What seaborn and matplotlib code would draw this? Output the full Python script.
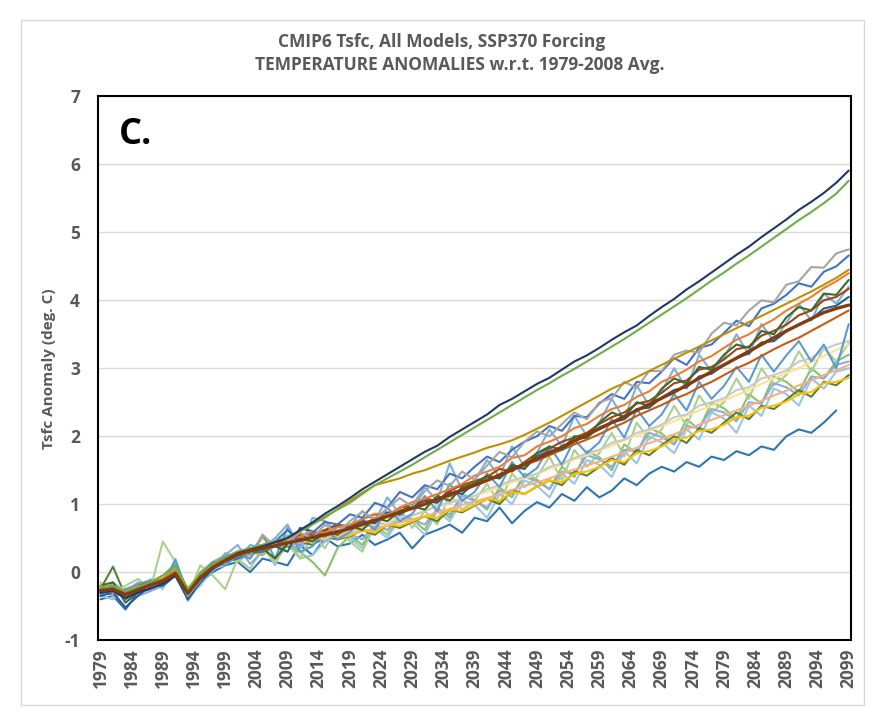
import matplotlib
matplotlib.use("Agg")
import matplotlib.pyplot as plt
from matplotlib.patches import Rectangle
import seaborn as sns
import numpy as np
import pandas as pd

# every 2nd year, 1979 .. 2099
years = list(range(1979, 2100, 2))
tick_years = list(range(1979, 2100, 5))

# temperature anomalies (deg C) w.r.t. 1979-2008
navy = [-0.30, -0.28, -0.38, -0.30, -0.24, -0.17, -0.05, -0.32, -0.10, 0.05, 0.18, 0.28, 0.33, 0.38, 0.44,
        0.50, 0.62, 0.73, 0.86, 0.97, 1.09, 1.22, 1.33, 1.44, 1.55,
        1.66, 1.77, 1.86, 1.99, 2.10, 2.21, 2.32, 2.46, 2.55, 2.66,
        2.77, 2.86, 2.98, 3.10, 3.19, 3.30, 3.42, 3.53, 3.63, 3.77,
        3.90, 4.02, 4.16, 4.28, 4.41, 4.54, 4.67, 4.79, 4.93, 5.06,
        5.19, 5.33, 5.45, 5.58, 5.73, 5.91]
green_hi = [-0.22, -0.20, -0.28, -0.22, -0.15, -0.05, 0.10, -0.25, -0.02, 0.12, 0.22, 0.30, 0.35, 0.40, 0.45,
            0.52, 0.60, 0.70, 0.82, 0.92, 1.02, 1.15, 1.28, 1.38, 1.48,
            1.58, 1.69, 1.80, 1.91, 2.02, 2.13, 2.24, 2.35, 2.46, 2.57,
            2.68, 2.78, 2.89, 2.99, 3.10, 3.21, 3.32, 3.43, 3.55, 3.67,
            3.79, 3.91, 4.03, 4.16, 4.29, 4.41, 4.54, 4.66, 4.79, 4.92,
            5.05, 5.18, 5.30, 5.43, 5.57, 5.76]
gray = [-0.20, -0.30, -0.28, -0.20, -0.25, -0.10, 0.05, -0.35, -0.12, 0.10, 0.15, 0.30, 0.25, 0.55, 0.38,
        0.45, 0.58, 0.50, 0.70, 0.57, 0.75, 0.89, 0.78, 0.94, 1.09,
        0.96, 1.19, 1.35, 1.27, 1.48, 1.36, 1.57, 1.77, 1.69, 1.92,
        2.07, 2.00, 2.18, 2.35, 2.25, 2.50, 2.56, 2.80, 2.71, 2.96,
        2.96, 3.20, 3.26, 3.23, 3.51, 3.67, 3.63, 3.85, 4.00, 3.97,
        4.23, 4.28, 4.49, 4.48, 4.69, 4.75]
blue = [-0.32, -0.20, -0.40, -0.28, -0.15, -0.18, 0.05, -0.35, -0.10, 0.05, 0.22, 0.20, 0.35, 0.30, 0.45,
        0.62, 0.45, 0.58, 0.74, 0.70, 0.85, 0.80, 1.02, 0.95, 1.18,
        1.10, 1.28, 1.22, 1.45, 1.38, 1.55, 1.70, 1.62, 1.80, 1.92,
        2.00, 2.15, 2.08, 2.30, 2.28, 2.48, 2.62, 2.55, 2.80, 2.78,
        2.95, 3.15, 3.05, 3.30, 3.35, 3.52, 3.70, 3.62, 3.88, 3.95,
        4.08, 4.25, 4.20, 4.42, 4.50, 4.66]
gold = [-0.28, -0.22, -0.30, -0.25, -0.18, -0.10, 0.02, -0.28, -0.05, 0.10, 0.20, 0.28, 0.34, 0.40, 0.45,
        0.50, 0.60, 0.71, 0.80, 0.93, 1.05, 1.17, 1.28, 1.33, 1.38,
        1.45, 1.50, 1.57, 1.64, 1.70, 1.76, 1.83, 1.88, 1.94, 2.02,
        2.11, 2.20, 2.30, 2.40, 2.50, 2.60, 2.70, 2.78, 2.87, 2.96,
        3.05, 3.14, 3.23, 3.32, 3.41, 3.50, 3.59, 3.68, 3.77, 3.86,
        3.95, 4.04, 4.13, 4.23, 4.33, 4.45]
orange = [-0.25, -0.30, -0.35, -0.22, -0.20, -0.15, 0.02, -0.28, -0.05, 0.05, 0.18, 0.25, 0.30, 0.35, 0.40,
          0.45, 0.52, 0.60, 0.58, 0.66, 0.70, 0.78, 0.86, 0.84, 0.95,
          1.03, 1.08, 1.15, 1.22, 1.30, 1.42, 1.48, 1.55, 1.68, 1.72,
          1.85, 1.92, 2.00, 2.12, 2.18, 2.30, 2.40, 2.46, 2.58, 2.66,
          2.80, 2.88, 2.98, 3.10, 3.18, 3.30, 3.42, 3.50, 3.62, 3.72,
          3.85, 3.95, 4.05, 4.18, 4.28, 4.40]
dkgreen = [-0.20, -0.15, -0.45, -0.30, -0.18, -0.12, 0.05, -0.25, -0.10, 0.10, 0.15, 0.30, 0.28, 0.35, 0.20,
           0.42, 0.50, 0.45, 0.60, 0.55, 0.68, 0.62, 0.80, 0.75, 0.90,
           0.97, 0.92, 1.12, 1.05, 1.25, 1.30, 1.42, 1.38, 1.58, 1.52,
           1.75, 1.85, 1.80, 2.00, 1.98, 2.20, 2.35, 2.28, 2.50, 2.45,
           2.70, 2.85, 2.78, 3.02, 2.98, 3.20, 3.35, 3.30, 3.55, 3.50,
           3.75, 3.90, 3.85, 4.10, 4.08, 4.30]
brown = [-0.30, -0.25, -0.28, -0.30, -0.22, -0.15, -0.02, -0.32, -0.05, 0.12, 0.20, 0.25, 0.35, 0.33, 0.44,
         0.45, 0.55, 0.52, 0.62, 0.70, 0.67, 0.78, 0.85, 0.82, 0.95,
         0.98, 1.08, 1.05, 1.20, 1.28, 1.34, 1.40, 1.52, 1.48, 1.62,
         1.75, 1.82, 1.92, 1.98, 2.05, 2.18, 2.28, 2.35, 2.48, 2.52,
         2.64, 2.78, 2.82, 2.98, 3.02, 3.13, 3.28, 3.32, 3.48, 3.55,
         3.64, 3.78, 3.85, 4.00, 4.05, 4.17]
navy2 = [-0.35, -0.30, -0.52, -0.35, -0.20, -0.20, -0.05, -0.40, -0.15, 0.05, 0.15, 0.25, 0.28, 0.35, 0.38,
         0.30, 0.65, 0.60, 0.55, 0.68, 0.66, 0.75, 0.72, 0.88, 0.85,
         0.96, 1.05, 1.02, 1.18, 1.15, 1.31, 1.40, 1.38, 1.55, 1.52,
         1.71, 1.78, 1.80, 1.95, 1.98, 2.13, 2.20, 2.25, 2.40, 2.42,
         2.57, 2.68, 2.72, 2.88, 2.92, 3.05, 3.15, 3.22, 3.38, 3.40,
         3.54, 3.65, 3.72, 3.88, 3.92, 4.05]
ltblue = [-0.22, -0.30, -0.25, -0.18, -0.12, -0.18, 0.18, -0.30, -0.05, 0.15, 0.10, 0.25, 0.20, 0.55, 0.20,
          0.65, 0.30, 0.38, 0.62, 0.48, 0.59, 0.78, 0.62, 0.95, 0.75,
          0.86, 1.12, 0.90, 1.30, 1.05, 1.18, 1.45, 1.25, 1.62, 1.40,
          1.53, 1.85, 1.58, 1.95, 1.75, 1.91, 2.25, 1.98, 2.40, 2.15,
          2.32, 2.62, 2.38, 2.80, 2.55, 2.74, 3.02, 2.80, 3.20, 2.95,
          3.19, 3.40, 3.10, 3.35, 3.00, 3.65]
ltgray = [-0.25, -0.28, -0.30, -0.25, -0.22, -0.15, 0.00, -0.28, -0.05, 0.10, 0.20, 0.22, 0.30, 0.38, 0.40,
          0.40, 0.45, 0.52, 0.48, 0.58, 0.57, 0.65, 0.72, 0.70, 0.80,
          0.83, 0.90, 0.98, 1.02, 1.08, 1.12, 1.22, 1.28, 1.35, 1.40,
          1.45, 1.55, 1.60, 1.68, 1.75, 1.80, 1.90, 1.95, 2.05, 2.10,
          2.17, 2.28, 2.32, 2.45, 2.50, 2.56, 2.68, 2.72, 2.85, 2.90,
          2.97, 3.10, 3.15, 3.28, 3.35, 3.40]
ltgreen = [-0.15, -0.35, -0.20, -0.10, -0.25, 0.45, 0.15, -0.35, 0.10, -0.05, -0.25, 0.20, 0.05, 0.35, 0.15,
           0.40, 0.20, 0.55, 0.35, 0.70, 0.45, 0.30, 0.72, 0.55, 0.95,
           0.65, 0.90, 0.70, 1.15, 0.92, 1.05, 1.30, 1.00, 1.45, 1.25,
           1.40, 1.70, 1.35, 1.80, 1.55, 1.75, 2.05, 1.70, 2.20, 1.95,
           2.10, 2.45, 2.15, 2.60, 2.35, 2.50, 2.85, 2.55, 3.00, 2.75,
           2.90, 3.25, 2.95, 3.30, 3.10, 3.37]
midgreen = [-0.30, -0.22, -0.40, -0.20, -0.15, -0.05, 0.12, -0.42, -0.15, 0.05, 0.25, 0.15, 0.30, 0.25, 0.40,
            0.38, 0.30, 0.15, -0.05, 0.35, 0.54, 0.40, 0.68, 0.55, 0.85,
            0.78, 0.62, 0.95, 0.80, 1.15, 1.06, 0.92, 1.25, 1.10, 1.45,
            1.36, 1.22, 1.55, 1.40, 1.78, 1.69, 1.50, 1.88, 1.75, 2.12,
            2.04, 1.88, 2.25, 2.10, 2.50, 2.41, 2.25, 2.62, 2.48, 2.88,
            2.80, 2.65, 3.00, 2.85, 3.10, 3.20]
yellow = [-0.20, -0.25, -0.30, -0.30, -0.18, -0.10, 0.00, -0.25, -0.05, 0.12, 0.20, 0.28, 0.30, 0.50, 0.40,
          0.40, 0.48, 0.45, 0.55, 0.50, 0.54, 0.62, 0.58, 0.70, 0.68,
          0.75, 0.82, 0.80, 0.92, 0.90, 0.99, 1.08, 1.05, 1.18, 1.15,
          1.26, 1.35, 1.32, 1.45, 1.48, 1.55, 1.65, 1.62, 1.75, 1.78,
          1.85, 1.95, 1.98, 2.08, 2.10, 2.17, 2.28, 2.30, 2.42, 2.45,
          2.51, 2.62, 2.65, 2.78, 2.80, 2.86]
ltyellow = [-0.22, -0.20, -0.25, -0.22, -0.15, -0.08, 0.05, -0.22, -0.02, 0.12, 0.22, 0.28, 0.33, 0.38, 0.42,
            0.42, 0.48, 0.52, 0.55, 0.60, 0.59, 0.65, 0.70, 0.75, 0.80,
            0.84, 0.90, 0.95, 1.02, 1.08, 1.12, 1.18, 1.25, 1.32, 1.38,
            1.44, 1.52, 1.58, 1.66, 1.72, 1.79, 1.86, 1.94, 2.01, 2.08,
            2.15, 2.22, 2.30, 2.38, 2.45, 2.53, 2.60, 2.68, 2.77, 2.85,
            2.93, 3.00, 3.10, 3.18, 3.27, 3.35]
paleblue = [-0.35, -0.40, -0.25, -0.35, -0.10, -0.25, 0.20, -0.35, -0.20, 0.05, 0.10, 0.30, 0.20, 0.40, 0.10,
            0.55, 0.20, 0.25, 0.45, 0.60, 0.50, 0.35, 0.65, 0.50, 0.80,
            0.73, 0.55, 0.90, 0.75, 1.05, 0.99, 0.80, 1.15, 1.00, 1.35,
            1.27, 1.10, 1.45, 1.30, 1.65, 1.58, 1.40, 1.78, 1.60, 2.00,
            1.91, 1.75, 2.10, 1.95, 2.35, 2.26, 2.05, 2.45, 2.30, 2.70,
            2.62, 2.45, 2.85, 2.70, 2.95, 3.00]
tan = [-0.25, -0.22, -0.28, -0.25, -0.18, -0.12, -0.02, -0.30, -0.10, 0.05, 0.15, 0.25, 0.30, 0.34, 0.38,
       0.40, 0.43, 0.47, 0.50, 0.53, 0.55, 0.60, 0.64, 0.68, 0.73,
       0.78, 0.82, 0.88, 0.93, 0.99, 1.04, 1.09, 1.15, 1.21, 1.27,
       1.32, 1.38, 1.45, 1.51, 1.57, 1.63, 1.70, 1.76, 1.83, 1.90,
       1.96, 2.03, 2.10, 2.17, 2.24, 2.31, 2.38, 2.45, 2.52, 2.60,
       2.67, 2.75, 2.82, 2.90, 2.97, 3.05]
dkgreen2 = [-0.25, 0.08, -0.35, -0.25, -0.25, -0.15, -0.05, -0.35, -0.10, 0.10, 0.15, 0.20, 0.28, 0.30, 0.38,
            0.38, 0.45, 0.40, 0.52, 0.48, 0.53, 0.62, 0.55, 0.70, 0.65,
            0.74, 0.82, 0.75, 0.92, 0.88, 0.98, 1.08, 1.00, 1.20, 1.15,
            1.26, 1.35, 1.28, 1.48, 1.42, 1.55, 1.68, 1.58, 1.80, 1.72,
            1.87, 2.00, 1.90, 2.12, 2.05, 2.20, 2.35, 2.25, 2.45, 2.40,
            2.54, 2.68, 2.58, 2.80, 2.75, 2.90]
lowblue = [-0.40, -0.35, -0.55, -0.30, -0.25, -0.20, -0.05, -0.38, -0.15, 0.00, 0.10, 0.15, 0.00, 0.20, 0.15,
           0.10, 0.40, 0.25, 0.50, 0.38, 0.42, 0.55, 0.40, 0.48, 0.58,
           0.35, 0.55, 0.62, 0.70, 0.58, 0.80, 0.75, 0.95, 0.72, 0.90,
           1.03, 0.95, 1.15, 1.05, 1.25, 1.10, 1.20, 1.38, 1.28, 1.45,
           1.55, 1.48, 1.62, 1.55, 1.70, 1.65, 1.78, 1.72, 1.85, 1.80,
           2.00, 2.10, 2.05, 2.20, 2.38, np.nan]
steelblue = [-0.28, -0.35, -0.30, -0.15, -0.22, -0.18, 0.10, -0.30, 0.00, 0.15, 0.25, 0.40, 0.12, 0.30, 0.42,
             0.40, 0.35, 0.52, 0.45, 0.62, 0.56, 0.48, 0.70, 0.62, 0.85,
             0.78, 0.70, 0.92, 0.85, 1.12, 1.05, 0.95, 1.20, 1.15, 1.40,
             1.34, 1.22, 1.48, 1.45, 1.72, 1.66, 1.55, 1.80, 1.78, 2.05,
             1.99, 1.88, 2.15, 2.12, 2.40, 2.35, 2.22, 2.50, 2.48, 2.78,
             2.72, 2.60, 2.88, 2.85, 3.05, 3.10]
rust = [-0.30, -0.22, -0.28, -0.20, -0.15, -0.10, 0.05, -0.28, -0.02, 0.12, 0.22, 0.30, 0.35, 0.40, 0.45,
        0.45, 0.52, 0.55, 0.62, 0.60, 0.65, 0.72, 0.78, 0.82, 0.88,
        0.93, 1.00, 1.08, 1.12, 1.20, 1.27, 1.35, 1.40, 1.50, 1.58,
        1.64, 1.72, 1.80, 1.88, 1.95, 2.03, 2.12, 2.20, 2.30, 2.38,
        2.46, 2.55, 2.62, 2.72, 2.80, 2.90, 3.00, 3.08, 3.18, 3.28,
        3.37, 3.45, 3.55, 3.65, 3.75, 3.85]
skyblue = [-0.35, -0.15, -0.30, -0.35, -0.28, -0.20, 0.08, -0.42, -0.15, 0.02, 0.28, 0.20, 0.40, 0.35, 0.50,
           0.70, 0.35, 0.80, 0.75, 0.58, 0.67, 0.90, 0.75, 1.10, 0.85,
           0.98, 1.25, 1.05, 1.60, 1.20, 1.35, 1.65, 1.40, 1.85, 1.55,
           1.76, 2.10, 1.85, 2.30, 2.00, 2.20, 2.55, 2.25, 2.75, 2.45,
           2.66, 3.00, 2.70, 3.20, 2.95, 3.15, 3.50, 3.20, 3.65, 3.40,
           3.67, 3.95, 3.70, 4.10, 3.95, 4.20]
# thick line (ensemble mean)
ens_mean = [-0.27, -0.25, -0.33, -0.26, -0.19, -0.13, -0.02, -0.31, -0.08, 0.07, 0.17, 0.26, 0.31, 0.35, 0.39,
            0.43, 0.47, 0.51, 0.55, 0.59, 0.64, 0.70, 0.76, 0.82, 0.88,
            0.94, 1.00, 1.07, 1.14, 1.21, 1.28, 1.35, 1.43, 1.51, 1.59,
            1.67, 1.75, 1.84, 1.93, 2.02, 2.11, 2.20, 2.29, 2.38, 2.47,
            2.56, 2.65, 2.75, 2.85, 2.95, 3.05, 3.15, 3.25, 3.35, 3.45,
            3.55, 3.64, 3.73, 3.82, 3.88, 3.93]

models = {
    "lowblue": (lowblue, "#2E75B6"),
    "paleblue": (paleblue, "#9DC3E6"),
    "midgreen": (midgreen, "#8CC168"),
    "ltgreen": (ltgreen, "#A9D18E"),
    "steelblue": (steelblue, "#8FAADC"),
    "dkgreen2": (dkgreen2, "#548235"),
    "tan": (tan, "#F4B183"),
    "yellow": (yellow, "#FFC000"),
    "ltyellow": (ltyellow, "#FFE38A"),
    "ltgray": (ltgray, "#C9C9C9"),
    "ltblue": (ltblue, "#5B9BD5"),
    "skyblue": (skyblue, "#7CAFDD"),
    "rust": (rust, "#C55A11"),
    "navy2": (navy2, "#255E91"),
    "brown": (brown, "#9E480E"),
    "dkgreen": (dkgreen, "#43682B"),
    "orange": (orange, "#ED7D31"),
    "blue": (blue, "#4472C4"),
    "gray": (gray, "#A5A5A5"),
    "gold": (gold, "#BF9000"),
    "green_hi": (green_hi, "#70AD47"),
    "navy": (navy, "#203864"),
}

frames = [pd.DataFrame({"Year": years, "Anomaly": vals, "Model": name})
          for name, (vals, _) in models.items()]
df = pd.concat(frames, ignore_index=True)
palette = {name: c for name, (_, c) in models.items()}

sns.set_style("white")
plt.rcParams["font.family"] = ["Open Sans", "DejaVu Sans"]
plt.rcParams["axes.unicode_minus"] = False

fig = plt.figure(figsize=(8.83, 7.2), dpi=100)
ax = fig.add_axes([0.111, 0.111, 0.853, 0.755])

sns.lineplot(data=df, x="Year", y="Anomaly", hue="Model", palette=palette,
             legend=False, linewidth=1.5, ax=ax, sort=False)
sns.lineplot(x=years, y=ens_mean, color="#843C0C", linewidth=2.4, ax=ax)

ax.set_xlim(1978.6, 2099.4)
ax.set_ylim(-1, 7)
ax.set_yticks(range(-1, 8))
ax.set_xticks(tick_years)
ax.set_xticklabels([str(y) for y in tick_years], rotation=90)
ax.tick_params(axis="both", length=0, labelsize=12.5, labelcolor="#595959")
for lab in ax.get_xticklabels() + ax.get_yticklabels():
    lab.set_fontweight("bold")
ax.tick_params(axis="y", pad=13)
ax.tick_params(axis="x", pad=6)
ax.yaxis.grid(True, color="#D9D9D9", linewidth=1)
ax.set_axisbelow(True)
for s in ax.spines.values():
    s.set_visible(True)
    s.set_color("black")
    s.set_linewidth(1.5)

ax.set_xlabel("")
ax.set_ylabel("Tsfc Anomaly (deg. C)", fontsize=11, color="#595959",
              fontweight="bold", labelpad=6)
ax.text(0.028, 0.962, "C.", transform=ax.transAxes, fontsize=26,
        fontweight="bold", color="black", va="top", ha="left")

fig.text(442 / 883, 1 - 42 / 720, "CMIP6 Tsfc, All Models, SSP370 Forcing",
         ha="center", va="center", fontsize=12.5, color="#595959", fontweight="bold")
fig.text(460 / 883, 1 - 65 / 720, "TEMPERATURE ANOMALIES w.r.t. 1979-2008 Avg.",
         ha="center", va="center", fontsize=12.5, color="#595959", fontweight="bold")

fig.patches.append(Rectangle((21 / 883, 1 - 705 / 720), (864 - 21) / 883, (705 - 20) / 720,
                             transform=fig.transFigure, fill=False,
                             edgecolor="#D9D9D9", linewidth=1))

fig.savefig("out.png", dpi=100)
